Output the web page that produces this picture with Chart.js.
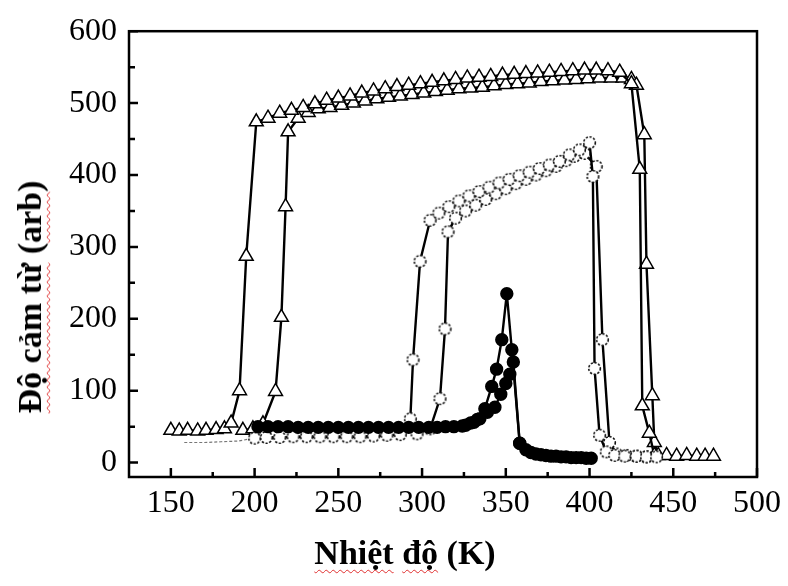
<!DOCTYPE html>
<html>
<head>
<meta charset="utf-8">
<script src="https://cdn.jsdelivr.net/npm/chart.js@4.4.1/dist/chart.umd.min.js"></script>
<style>
html, body { margin: 0; padding: 0; background: #fff; }
#wrap { position: relative; width: 788px; height: 586px; }
#c { position: absolute; left: 0; top: 0; }
.title { position: absolute; font-family: "Liberation Serif", serif; font-weight: bold; font-size: 34px; color: #000; white-space: nowrap; line-height: 1; }
.sp { text-decoration: underline wavy #e03030; text-decoration-thickness: 1px; text-underline-offset: 5px; text-decoration-skip-ink: none; }
#ytitle { left: 30px; top: 297px; transform: translate(-50%, -50%) rotate(-90deg); }
#xtitle { left: 405px; top: 553px; transform: translate(-50%, -50%); }
</style>
</head>
<body>
<div id="wrap">
  <canvas id="c" width="788" height="586"></canvas>
  <div id="ytitle" class="title"><span class="sp">Độ cảm từ</span> (<span class="sp">arb</span>)</div>
  <div id="xtitle" class="title"><span class="sp">Nhiệt</span> <span class="sp">độ</span> (K)</div>
</div>
<script>
// --- données ---
const xTicks = [150, 200, 250, 300, 350, 400, 450, 500];
const xMinor = [175, 225, 275, 325, 375, 425, 475];
const yTicks = [0, 100, 200, 300, 400, 500, 600];
const yMinor = [50, 150, 250, 350, 450, 550];

// triangles, transition basse (~193 K)
const triATemp = [150,155,160,166,171,177,182,186,191,195,201,208,215,222,229,236,243,250,257,264,271,278,285,292,299,306,313,320,327,334,341,348,355,362,369,376,383,390,397,404,411,418,425,430,431.5,435.7,438.7,446,452,458,464,469,474];
const triAVal  = [45,44,45,44,45,46,47,55,100,287,474,479,486,490,494,499,504,507,510,514,517,520,523,525,527,529,531,533,535,536,537,539,540,541,542,543,544,545,546,546,545,543,527,408,79,41,10,10,9,10,9,9,9];

// triangles, transition haute (~216 K)
const triBTemp = [193,199,205,212.5,216,218.5,220,226,232,238,245,252,259,266,273,280,287,294,301,308,315,322,329,336,343,350,357,364,371,378,385,392,399,406,413,420,425,428,432.7,434,437.5,438.7,441];
const triBVal  = [45,47,54,99,202,356,460,479,487,492,494,497,500,503,506,508,510,512,514,516,518,520,521,522,524,526,527,528,530,531,532,533,534,535,535,535,533,525,456,276,93,28,10];

// cercles ouverts
const circATemp = [200,207,215,223,231,239,247,255,263,271,279,287,293,294.6,298.8,304.8,310,316,322,328,334,340,346,352,358,364,370,376,382,388,394,400,402,403,406,410,415,421,428,434,440];
const circAVal  = [34,35,35,36,36,36,36,36,36,37,38,39,61,143,280,337,347,356,364,371,377,383,389,394,399,404,409,414,419,428,435,445,398,131,38,15,10,9,9,8,8];
const circBTemp = [297,304.8,310.7,313.7,315.5,320,326,332,338,344,350,356,362,368,374,380,386,391,397,404,407.7,411.9,416,422,428,434];
const circBVal  = [40,47,89,186,321,340,350,358,366,374,381,388,394,400,406,412,420,426,430,412,171,28,12,10,9,8];
const circTailTemp = [158,170,180,190,200];
const circTailVal  = [28,28,29,30,34];

// cercles pleins
const fillATemp = [202,208,214,220,226,232,238,244,250,256,262,268,274,280,286,292,298,304,309,314,319,324,329,333,337.5,341.6,344.5,347.6,350.6,353.6,358.3,362,365,368,371,374,377,380,383,386,389,392,395,398,401];
const fillAVal  = [50,50,50,50,49,49,49,49,49,49,49,49,49,49,49,49,49,49,49,50,50,51,55,60,75,106,130,171,235,157,27,18,14,12,11,10,9,9,8,8,7,7,7,6,6];
const fillBTemp = [326,331,334.5,339,343.5,347,350,352.4,354.5,358.3];
const fillBVal  = [52,56,61,70,77,95,110,123,140,27];

const pts = (xs, ys) => xs.map((x, i) => ({ x: x, y: ys[i] }));

// cercle ouvert en pointillés (pointStyle image)
function dashedCircle() {
    const cv = document.createElement('canvas');
    cv.width = 15; cv.height = 15;
    const g = cv.getContext('2d');
    g.fillStyle = '#fff';
    g.beginPath(); g.arc(7.5, 7.5, 5.8, 0, Math.PI * 2); g.fill();
    g.setLineDash([2.2, 1.6]);
    g.lineWidth = 1.6;
    g.strokeStyle = '#111';
    g.stroke();
    return cv;
}
const openCircle = dashedCircle();

// cadre + graduations intérieures
const frameTicks = {
    id: 'frameTicks',
    afterDraw(chart) {
        const { ctx, chartArea: a, scales: { x, y } } = chart;
        ctx.save();
        ctx.strokeStyle = '#000';
        ctx.lineWidth = 2.5;
        ctx.strokeRect(a.left, a.top, a.right - a.left, a.bottom - a.top);
        ctx.beginPath();
        xTicks.forEach(v => { const p = x.getPixelForValue(v); ctx.moveTo(p, a.bottom); ctx.lineTo(p, a.bottom - 9); });
        xMinor.forEach(v => { const p = x.getPixelForValue(v); ctx.moveTo(p, a.bottom); ctx.lineTo(p, a.bottom - 5); });
        yTicks.forEach(v => { const p = y.getPixelForValue(v); ctx.moveTo(a.left, p); ctx.lineTo(a.left + 9, p); });
        yMinor.forEach(v => { const p = y.getPixelForValue(v); ctx.moveTo(a.left, p); ctx.lineTo(a.left + 6, p); });
        ctx.stroke();
        ctx.restore();
    }
};

const line = { showLine: true, borderColor: '#000', borderWidth: 2.4, tension: 0 };
const tickFont = { family: '"Liberation Serif", serif', size: 32 };

new Chart(document.getElementById('c').getContext('2d'), {
    type: 'scatter',
    data: {
        datasets: [
            { ...line, data: pts(fillATemp, fillAVal), pointStyle: 'circle', pointRadius: 5.5, backgroundColor: '#000', pointBorderColor: '#000' },
            { ...line, data: pts(fillBTemp, fillBVal), pointStyle: 'circle', pointRadius: 5.5, backgroundColor: '#000', pointBorderColor: '#000' },
            { ...line, data: pts(circATemp, circAVal), pointStyle: openCircle, pointRadius: 6 },
            { ...line, data: pts(circBTemp, circBVal), pointStyle: openCircle, pointRadius: 6 },
            { ...line, data: pts(circTailTemp, circTailVal), pointRadius: 0, borderWidth: 1.2, borderColor: '#777', borderDash: [3, 2] },
            { ...line, data: pts(triATemp, triAVal), pointStyle: 'triangle', pointRadius: 8, backgroundColor: '#fff', pointBorderColor: '#000', pointBorderWidth: 1.5 },
            { ...line, data: pts(triBTemp, triBVal), pointStyle: 'triangle', pointRadius: 8, backgroundColor: '#fff', pointBorderColor: '#000', pointBorderWidth: 1.5 }
        ]
    },
    options: {
        responsive: false,
        animation: false,
        layout: { padding: { top: 25, right: 30, left: 0, bottom: 0 } },
        plugins: { legend: { display: false }, tooltip: { enabled: false } },
        scales: {
            x: {
                type: 'linear', min: 125, max: 500,
                grid: { display: false, drawTicks: false },
                border: { display: false },
                ticks: { font: tickFont, color: '#000', padding: 7, maxRotation: 0 },
                afterBuildTicks: s => { s.ticks = xTicks.map(v => ({ value: v })); },
                afterFit: s => { s.height = 109; }
            },
            y: {
                type: 'linear', min: -20, max: 600,
                grid: { display: false, drawTicks: false },
                border: { display: false },
                ticks: { font: tickFont, color: '#000', padding: 12 },
                afterBuildTicks: s => { s.ticks = yTicks.map(v => ({ value: v })); },
                afterFit: s => { s.width = 129; }
            }
        }
    },
    plugins: [frameTicks]
});
</script>
</body>
</html>
